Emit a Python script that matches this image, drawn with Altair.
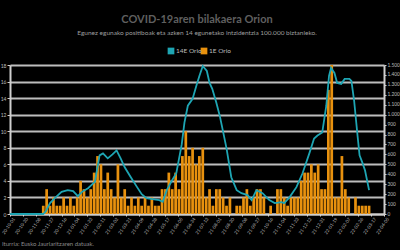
import altair as alt
import pandas as pd

START = pd.Timestamp("2020-10-01")

# 14-day incidence per 100.000 (right axis): day offset from START, value
line_days = [0, 49, 53, 59, 66, 76, 85, 93, 100, 106, 115, 125, 132, 137, 144, 151, 157, 163, 169, 178,
             187, 194, 201, 210, 220, 225, 231, 238, 245, 253, 257, 262, 269, 275, 279, 284, 290, 294, 298, 304,
             309, 313, 319, 326, 334, 341, 350, 356, 363, 372, 382, 390, 400, 404, 412, 422, 431, 441, 448, 453,
             460, 466, 470, 473, 478, 482, 488, 493, 500, 503, 507, 512, 515, 519, 523, 529]
line_vals = [0, 0, 30, 110, 160, 223, 240, 230, 180, 223, 260, 323, 590, 610, 560, 600, 640, 560, 470, 370,
             273, 200, 160, 150, 140, 123, 240, 330, 410, 700, 920, 1090, 1160, 1300, 1390, 1490, 1440, 1320, 1260, 1120,
             990, 860, 660, 370, 240, 210, 190, 140, 240, 210, 140, 110, 120, 110, 170, 270, 410, 610, 760, 790,
             820, 1090, 1390, 1470, 1420, 1320, 1310, 1360, 1360, 1340, 1140, 790, 590, 520, 440, 240]

# daily positives (left axis), one value per 5-day period starting at day 47
bar_first_day = 47
bar_step = 5
bar_vals = [1, 3, 1, 2, 1, 1, 2, 1, 2, 1, 2, 4, 3, 2, 3, 5, 7, 6, 3, 5,
            3, 2, 6, 2, 3, 1, 2, 1, 2, 1, 2, 1, 2, 1, 1, 3, 3, 5, 3, 5,
            3, 7, 10, 7, 8, 6, 7, 8, 2, 3, 1, 3, 3, 2, 1, 2, 0, 1, 1, 2,
            3, 1, 2, 3, 3, 2, 0, 1, 0, 3, 3, 2, 1, 2, 2, 2, 4, 5, 5, 6,
            5, 6, 3, 3, 15, 18, 2, 2, 7, 3, 2, 0, 2, 1, 1, 1, 1]

tick_dates = ["2020-10-01", "2020-10-20", "2020-11-08", "2020-11-27", "2020-12-16", "2021-01-04",
              "2021-01-23", "2021-02-11", "2021-03-02", "2021-03-21", "2021-04-09", "2021-04-28",
              "2021-05-17", "2021-06-05", "2021-06-24", "2021-07-13", "2021-08-01", "2021-08-20",
              "2021-09-08", "2021-09-27", "2021-10-16", "2021-11-04", "2021-11-23", "2021-12-12",
              "2021-12-31", "2022-01-19", "2022-02-07", "2022-02-26", "2022-03-17", "2022-04-05"]

TEAL = "#1ea5b3"
ORANGE = "#e8910e"
GRID = "#bdbdbd"
LBL = "#bdbdbd"
FONT = "Lato"

line_df = pd.DataFrame({"date": [START + pd.Timedelta(days=d) for d in line_days], "value": line_vals})
bar_start = [START + pd.Timedelta(days=bar_first_day + bar_step * i) for i in range(len(bar_vals))]
bar_df = pd.DataFrame({"start": bar_start,
                       "end": [s + pd.Timedelta(days=4) for s in bar_start],
                       "value": bar_vals})


def dt(s):
    y, m, d = (int(p) for p in s.split("-"))
    return alt.DateTime(year=y, month=m, date=d)


xscale = alt.Scale(domain=[dt(tick_dates[0]), dt(tick_dates[-1])])
xaxis = alt.Axis(values=[dt(s) for s in tick_dates], format="%y-%m-%d", labelAngle=-55,
                 labelFontSize=4.5, labelColor=LBL, labelFont=FONT, domainColor="#cfcfcf", domainWidth=2,
                 tickColor="#dddddd", tickSize=2, grid=False, title=None, labelPadding=2,
                 labelOverlap=False, labelOffset=4)

bars = alt.Chart(bar_df).mark_bar(color=ORANGE).encode(
    x=alt.X("start:T", scale=xscale, axis=xaxis),
    x2="end:T",
    y=alt.Y("value:Q", scale=alt.Scale(domain=[0, 18], nice=False),
            axis=alt.Axis(orient="left", values=list(range(0, 19, 2)), grid=True, gridColor=GRID,
                          gridWidth=2, labelFontSize=5, labelColor=LBL, labelFont=FONT,
                          domainColor="#cfcfcf", domainWidth=2, tickColor="#cfcfcf", tickSize=3,
                          title=None, labelPadding=1)),
    y2=alt.datum(0),
)

line = alt.Chart(line_df).mark_line(color=TEAL, strokeWidth=1.8).encode(
    x=alt.X("date:T", scale=xscale, axis=xaxis),
    y=alt.Y("value:Q", scale=alt.Scale(domain=[0, 1500], nice=False),
            axis=alt.Axis(orient="right", values=list(range(0, 1501, 100)), grid=False,
                          labelExpr="replace(format(datum.value, ','), ',', '.')",
                          labelFontSize=4.8, labelColor=LBL, labelFont=FONT,
                          domainColor="#cfcfcf", domainWidth=2, tickColor="#cfcfcf", tickSize=2,
                          title=None, labelPadding=1)),
)

one = pd.DataFrame({"a": [0]})
leg_sq1 = alt.Chart(one).mark_square(color=TEAL, size=45, opacity=1).encode(x=alt.value(161), y=alt.value(-14))
leg_sq2 = alt.Chart(one).mark_square(color=ORANGE, size=45, opacity=1).encode(x=alt.value(194), y=alt.value(-14))
leg_t1 = alt.Chart(one).mark_text(text="14E Orio", align="left", baseline="middle", fontSize=6.5,
                                  color=LBL, font=FONT).encode(x=alt.value(166), y=alt.value(-14))
leg_t2 = alt.Chart(one).mark_text(text="1E Orio", align="left", baseline="middle", fontSize=6.5,
                                  color=LBL, font=FONT).encode(x=alt.value(199), y=alt.value(-14))
source = alt.Chart(one).mark_text(text="Iturria: Eusko Jaurlaritzaren datuak.", align="left",
                                  baseline="middle", fontSize=6, color="#8a8a8a", font=FONT).encode(
    x=alt.value(-8), y=alt.value(179))

chart = alt.layer(bars, line, leg_sq1, leg_sq2, leg_t1, leg_t2, source).resolve_scale(
    y="independent"
).properties(
    width=374, height=149,
    autosize=alt.AutoSizeParams(type="none"),
    padding={"left": 10, "top": 65, "right": 16, "bottom": 36},
    background="black",
    title=alt.TitleParams(
        text="COVID-19aren bilakaera Orion",
        subtitle="Egunez egunako positiboak eta azken 14 egunetako intzidentzia 100.000 biztanleko.",
        anchor="middle", color="#5f5f5f", fontSize=11, font=FONT, fontWeight="bold",
        subtitleColor="#9d9d9d", subtitleFontSize=6.5, subtitleFont=FONT,
        offset=11, subtitlePadding=5, frame="group"),
).configure_view(stroke=None)

chart.save("out.html", embed_options={"renderer": "svg", "actions": False})
